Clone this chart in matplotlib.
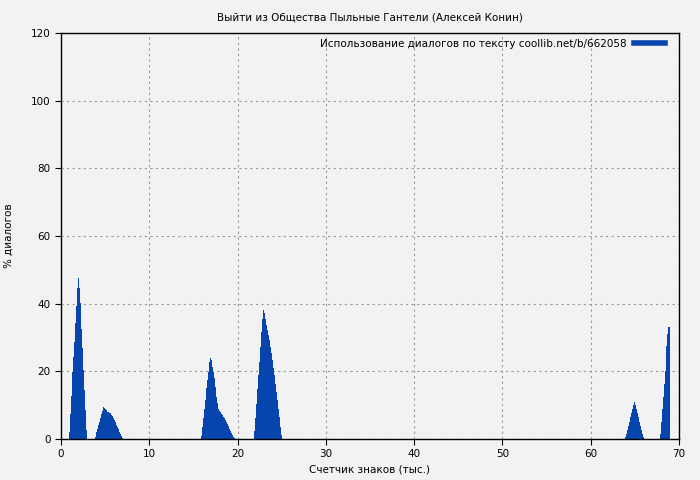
import matplotlib
matplotlib.use("Agg")
import matplotlib.pyplot as plt
from matplotlib.lines import Line2D
import numpy as np

# each peak: x of first bar (thousands of chars) and bar heights (% dialogs)
step = 0.112

p1_start = 0.9
p1_vals = [2.1, 7.4, 12.7, 19.8, 24.3, 28.8, 34.2, 39.3, 44.6, 47.6, 44.6, 40.1,
           32.4, 26.8, 20.4, 14.5, 8.6, 2.7]

p2_start = 3.85
p2_vals = [0.6, 2.0, 2.9, 4.0, 5.0, 6.1, 7.4, 8.2, 9.4, 9.2, 8.8, 8.5, 8.1, 7.9,
           7.8, 7.6, 7.2, 6.8, 6.2, 5.7, 4.9, 4.1, 3.5, 3.0, 2.2, 1.6, 1.0, 0.4]

p3_start = 15.85
p3_vals = [0.9, 3.6, 6.3, 8.8, 11.5, 15.0, 17.4, 19.9, 22.9, 23.9, 23.4, 21.4,
           19.9, 18.0, 15.5, 12.5, 10.6, 9.0, 8.4, 7.9, 7.4, 7.1, 6.6, 6.1,
           5.6, 5.1, 4.4, 3.8, 3.1, 2.4, 1.8, 1.2, 0.7, 0.4]

p4_start = 21.9
p4_vals = [2.5, 6.1, 10.3, 14.7, 18.9, 22.9, 27.3, 31.5, 35.5, 38.1, 37.1, 35.4,
           33.7, 32.2, 30.8, 29.3, 27.3, 25.3, 23.3, 20.9, 18.9, 16.4, 14.0,
           11.5, 9.0, 6.4, 3.6, 1.2]

p5_start = 63.9
p5_vals = [0.6, 1.5, 2.7, 3.9, 5.0, 6.4, 7.8, 9.0, 10.0, 10.9, 10.0, 9.0, 7.8,
           6.4, 5.0, 3.9, 2.7, 1.5, 0.6]

p6_start = 67.8
p6_vals = [1.5, 5.1, 9.0, 12.3, 16.2, 20.1, 23.6, 27.5, 31.0, 33.2]

peaks = [(p1_start, p1_vals), (p2_start, p2_vals), (p3_start, p3_vals),
         (p4_start, p4_vals), (p5_start, p5_vals), (p6_start, p6_vals)]

title = "Выйти из Общества Пыльные Гантели (Алексей Конин)"
legend_label = "Использование диалогов по тексту coollib.net/b/662058"
bar_color = "#0645ad"
bg = "#f2f2f2"

fig = plt.figure(figsize=(7, 4.8), dpi=100, facecolor=bg)
ax = fig.add_axes([0.087, 0.0854, 0.883, 0.846], facecolor=bg)

for start, vals in peaks:
    xs = start + step * np.arange(len(vals))
    ax.bar(xs, vals, width=step * 1.05, align="edge", color=bar_color, linewidth=0)

ax.set_xlim(0, 70)
ax.set_ylim(0, 120)
ax.set_xticks(range(0, 71, 10))
ax.set_yticks(range(0, 121, 20))
ax.set_axisbelow(True)
ax.grid(True, color="#999999", linestyle=(0, (2, 3)), linewidth=0.8)
ax.tick_params(direction="out", length=4, labelsize=7.5, top=False, right=False)
for s in ax.spines.values():
    s.set_linewidth(1.0)
    s.set_zorder(5)

ax.set_title(title, fontsize=7.5, pad=9)
ax.set_xlabel("Счетчик знаков (тыс.)", fontsize=7.5, labelpad=4)
ax.set_ylabel("% диалогов", fontsize=7.5, labelpad=12)

h = Line2D([], [], color=bar_color, linewidth=4)
ax.legend([h], [legend_label], loc="upper right", bbox_to_anchor=(0.984, 0.995),
          frameon=False, fontsize=7.5, markerfirst=False, handlelength=3.0,
          handletextpad=0.65, borderaxespad=0)

fig.savefig("out.png", dpi=100, facecolor=bg)
